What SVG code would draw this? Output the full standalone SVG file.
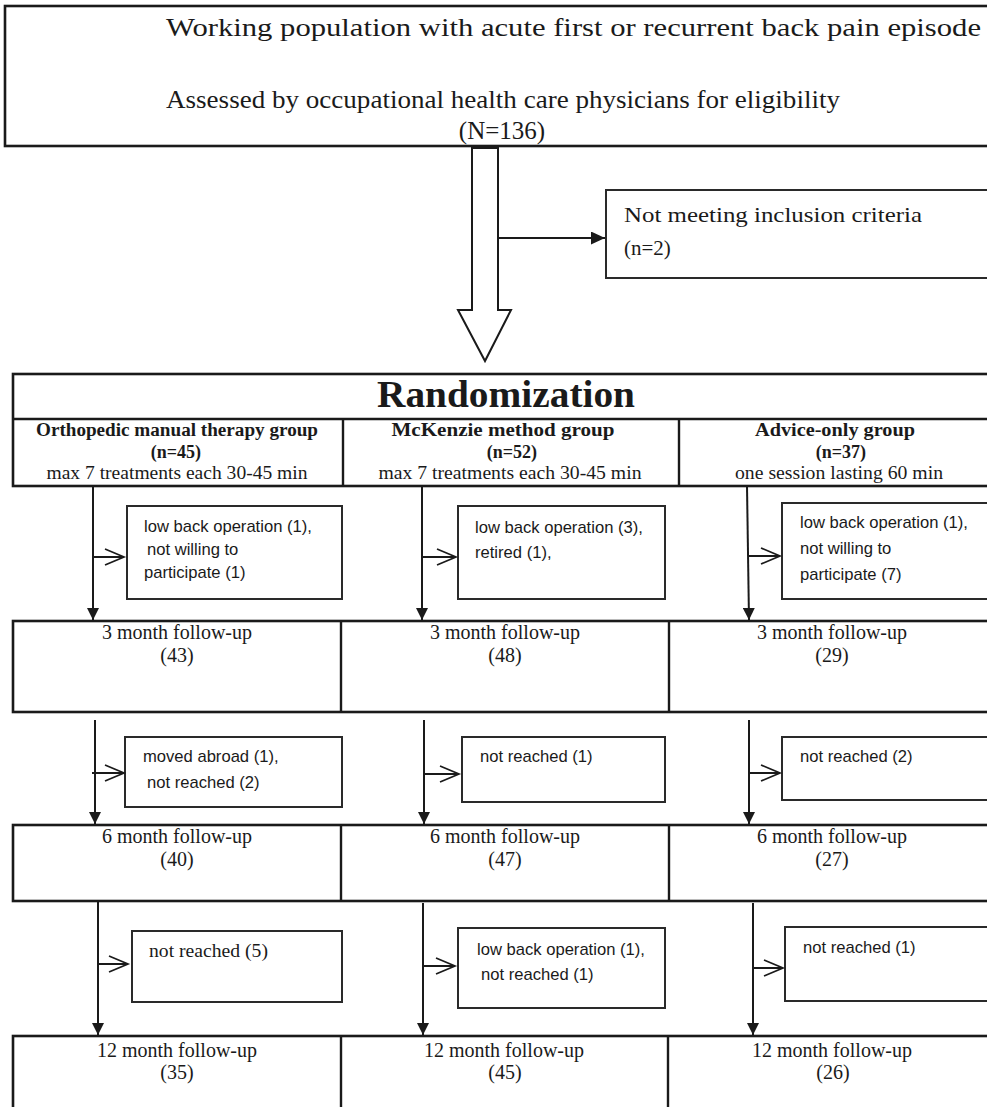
<svg xmlns="http://www.w3.org/2000/svg" width="987" height="1107" viewBox="0 0 987 1107">
<style>
.box{fill:#fff;stroke:#1a1a1a;stroke-width:2.6}
.sbox{fill:#fff;stroke:#2a2a2a;stroke-width:2}
.div{stroke:#1a1a1a;stroke-width:2.4}
.ln{stroke:#1a1a1a;stroke-width:2;fill:none}
.serif{font-family:"Liberation Serif","Times New Roman",serif;fill:#1a1a1a}
.big{font-size:25px}
.mid{font-size:21px}
.fu{font-size:20px;text-anchor:middle}
.hdr{font-size:18px;font-weight:bold;text-anchor:middle}
.sub{font-size:18px;text-anchor:middle}
.sans{font-family:"Liberation Sans",Arial,sans-serif;font-size:16.6px;fill:#1a1a1a}
</style>
<defs>
<marker id="fill" viewBox="0 0 12 12" refX="12" refY="6" markerWidth="12" markerHeight="12" markerUnits="userSpaceOnUse" orient="auto">
<path d="M0,0 L12,6 L0,12 z" fill="#1a1a1a"/>
</marker>
<marker id="fillbig" viewBox="0 0 14 13" refX="14" refY="6.5" markerWidth="14" markerHeight="13" markerUnits="userSpaceOnUse" orient="auto">
<path d="M0,0 L14,6.5 L0,13 z" fill="#1a1a1a"/>
</marker>
<marker id="open" viewBox="-1 -1 21 18" refX="19" refY="8" markerWidth="21" markerHeight="18" markerUnits="userSpaceOnUse" orient="auto" overflow="visible">
<path d="M0,0 L19,8 L0,16" fill="none" stroke="#1a1a1a" stroke-width="1.7"/>
</marker>
</defs>

<g id="eligibility">
<rect class="box" x="5" y="6" width="1000" height="140"/>
<text class="serif big" x="166" y="36" textLength="815" lengthAdjust="spacingAndGlyphs">Working population with acute first or recurrent back pain episode</text>
<text class="serif big" x="166" y="108" textLength="674" lengthAdjust="spacingAndGlyphs">Assessed by occupational health care physicians for eligibility</text>
<text class="serif big" x="502" y="139" text-anchor="middle">(N=136)</text>
</g>

<g id="excluded">
<rect class="sbox" x="606" y="190" width="400" height="88"/>
<text class="serif mid" x="624" y="222" textLength="298" lengthAdjust="spacingAndGlyphs">Not meeting inclusion criteria</text>
<text class="serif mid" x="624" y="255">(n=2)</text>
</g>

<g id="randomization">
<rect class="box" x="13" y="374" width="990" height="112"/>
<line class="div" x1="13" y1="419" x2="1003" y2="419"/>
<line class="div" x1="343" y1="419" x2="343" y2="486"/>
<line class="div" x1="679" y1="419" x2="679" y2="486"/>
<text class="serif" x="506" y="407" text-anchor="middle" font-size="37" font-weight="bold" textLength="258" lengthAdjust="spacingAndGlyphs">Randomization</text>
<text class="serif hdr" x="177" y="436" textLength="282" lengthAdjust="spacingAndGlyphs">Orthopedic manual therapy group</text>
<text class="serif hdr" x="176" y="458">(n=45)</text>
<text class="serif sub" x="177" y="479" textLength="261" lengthAdjust="spacingAndGlyphs">max 7 treatments each 30-45 min</text>
<text class="serif hdr" x="503" y="436" textLength="223" lengthAdjust="spacingAndGlyphs">McKenzie method group</text>
<text class="serif hdr" x="512" y="458">(n=52)</text>
<text class="serif sub" x="510" y="479" textLength="263" lengthAdjust="spacingAndGlyphs">max 7 treatments each 30-45 min</text>
<text class="serif hdr" x="835" y="436" textLength="160" lengthAdjust="spacingAndGlyphs">Advice-only group</text>
<text class="serif hdr" x="841" y="458">(n=37)</text>
<text class="serif sub" x="839" y="479" textLength="208" lengthAdjust="spacingAndGlyphs">one session lasting 60 min</text>
</g>

<g id="drop1-omt">
<rect class="sbox" x="127" y="506" width="215" height="93"/>
<text class="sans" x="144" y="532">low back operation (1),</text>
<text class="sans" x="147" y="555">not willing to</text>
<text class="sans" x="144" y="578">participate (1)</text>
</g>
<g id="drop1-mck">
<rect class="sbox" x="458" y="506" width="207" height="93"/>
<text class="sans" x="475" y="533">low back operation (3),</text>
<text class="sans" x="475" y="558">retired (1),</text>
</g>
<g id="drop1-adv">
<rect class="sbox" x="782" y="503" width="220" height="96"/>
<text class="sans" x="800" y="528">low back operation (1),</text>
<text class="sans" x="800" y="554">not willing to</text>
<text class="sans" x="800" y="580">participate (7)</text>
</g>

<g id="followup-3m">
<rect class="box" x="13" y="621" width="990" height="91"/>
<line class="div" x1="341" y1="621" x2="341" y2="712"/>
<line class="div" x1="669" y1="621" x2="669" y2="712"/>
<text class="serif fu" x="177" y="639">3 month follow-up</text>
<text class="serif fu" x="177" y="662">(43)</text>
<text class="serif fu" x="505" y="639">3 month follow-up</text>
<text class="serif fu" x="505" y="662">(48)</text>
<text class="serif fu" x="832" y="639">3 month follow-up</text>
<text class="serif fu" x="832" y="662">(29)</text>
</g>

<g id="drop2-omt">
<rect class="sbox" x="125" y="737" width="217" height="70"/>
<text class="sans" x="143" y="762">moved abroad (1),</text>
<text class="sans" x="147" y="788">not reached (2)</text>
</g>
<g id="drop2-mck">
<rect class="sbox" x="462" y="737" width="203" height="65"/>
<text class="sans" x="480" y="762">not reached (1)</text>
</g>
<g id="drop2-adv">
<rect class="sbox" x="782" y="737" width="220" height="63"/>
<text class="sans" x="800" y="762">not reached (2)</text>
</g>

<g id="followup-6m">
<rect class="box" x="13" y="825" width="990" height="76"/>
<line class="div" x1="341" y1="825" x2="341" y2="901"/>
<line class="div" x1="669" y1="825" x2="669" y2="901"/>
<text class="serif fu" x="177" y="843">6 month follow-up</text>
<text class="serif fu" x="177" y="866">(40)</text>
<text class="serif fu" x="505" y="843">6 month follow-up</text>
<text class="serif fu" x="505" y="866">(47)</text>
<text class="serif fu" x="832" y="843">6 month follow-up</text>
<text class="serif fu" x="832" y="866">(27)</text>
</g>

<g id="drop3-omt">
<rect class="sbox" x="132" y="931" width="210" height="71"/>
<text class="serif" x="149" y="957" font-size="18" textLength="119" lengthAdjust="spacingAndGlyphs">not reached (5)</text>
</g>
<g id="drop3-mck">
<rect class="sbox" x="458" y="928" width="207" height="80"/>
<text class="sans" x="477" y="955">low back operation (1),</text>
<text class="sans" x="481" y="980">not reached (1)</text>
</g>
<g id="drop3-adv">
<rect class="sbox" x="785" y="927" width="220" height="74"/>
<text class="sans" x="803" y="953">not reached (1)</text>
</g>

<g id="followup-12m">
<rect class="box" x="13" y="1036" width="990" height="90"/>
<line class="div" x1="341" y1="1036" x2="341" y2="1107"/>
<line class="div" x1="668" y1="1036" x2="668" y2="1107"/>
<text class="serif fu" x="177" y="1057">12 month follow-up</text>
<text class="serif fu" x="177" y="1079">(35)</text>
<text class="serif fu" x="504" y="1057">12 month follow-up</text>
<text class="serif fu" x="505" y="1079">(45)</text>
<text class="serif fu" x="832" y="1057">12 month follow-up</text>
<text class="serif fu" x="833" y="1079">(26)</text>
</g>

<g id="connectors">
<polygon points="472,148 498,148 498,310 511,310 485,361 458,310 472,310" fill="#fff" stroke="#1a1a1a" stroke-width="2"/>
<line class="ln" x1="498" y1="238" x2="605" y2="238" marker-end="url(#fillbig)"/>

<line class="ln" x1="93" y1="486" x2="93" y2="620" marker-end="url(#fill)"/>
<line class="ln" x1="93" y1="557" x2="124" y2="557" marker-end="url(#open)"/>
<line class="ln" x1="422" y1="486" x2="422" y2="620" marker-end="url(#fill)"/>
<line class="ln" x1="422" y1="557" x2="456" y2="557" marker-end="url(#open)"/>
<line class="ln" x1="747" y1="486" x2="749" y2="620" marker-end="url(#fill)"/>
<line class="ln" x1="748" y1="556" x2="780" y2="556" marker-end="url(#open)"/>

<line class="ln" x1="95" y1="720" x2="95" y2="824" marker-end="url(#fill)"/>
<line class="ln" x1="92" y1="773" x2="124" y2="773" marker-end="url(#open)"/>
<line class="ln" x1="424" y1="720" x2="424" y2="824" marker-end="url(#fill)"/>
<line class="ln" x1="424" y1="774" x2="459" y2="774" marker-end="url(#open)"/>
<line class="ln" x1="749" y1="720" x2="749" y2="824" marker-end="url(#fill)"/>
<line class="ln" x1="749" y1="773" x2="780" y2="773" marker-end="url(#open)"/>

<line class="ln" x1="98" y1="902" x2="98" y2="1035" marker-end="url(#fill)"/>
<line class="ln" x1="98" y1="964" x2="128" y2="964" marker-end="url(#open)"/>
<line class="ln" x1="423" y1="903" x2="423" y2="1035" marker-end="url(#fill)"/>
<line class="ln" x1="423" y1="966" x2="455" y2="966" marker-end="url(#open)"/>
<line class="ln" x1="753" y1="903" x2="753" y2="1035" marker-end="url(#fill)"/>
<line class="ln" x1="753" y1="968" x2="783" y2="968" marker-end="url(#open)"/>
</g>
</svg>
